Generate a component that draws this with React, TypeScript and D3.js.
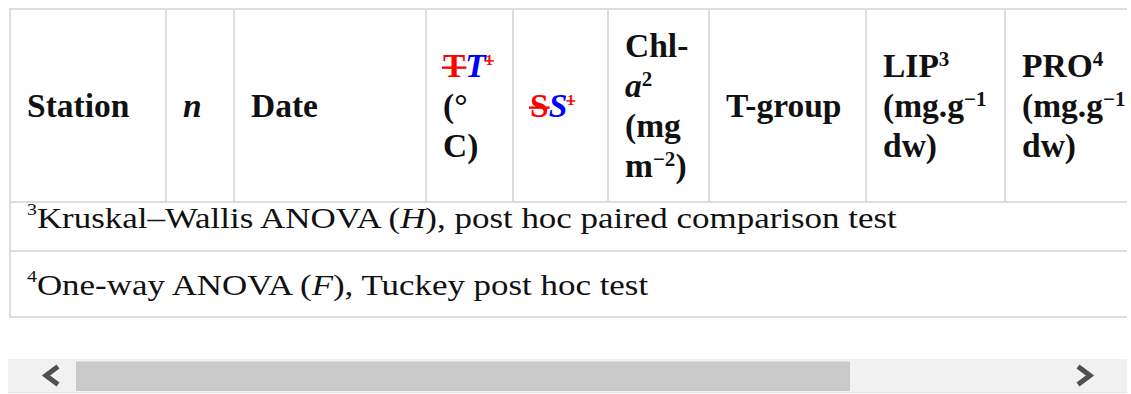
import React, { useRef, useEffect } from 'react';
import * as d3 from 'd3';

type Run = { t: string; i?: boolean; sup?: boolean; tag?: 'del' | 'ins' };

// header labels: one entry per column, each entry is a list of lines
const headerLabels: Run[][][] = [
  [[{ t: 'Station' }]],
  [[{ t: 'n', i: true }]],
  [[{ t: 'Date' }]],
  [
    [{ t: 'T', tag: 'del' }, { t: 'T', i: true, tag: 'ins' }, { t: '1', sup: true, tag: 'del' }],
    [{ t: '(°' }],
    [{ t: 'C)' }],
  ],
  [[{ t: 'S', tag: 'del' }, { t: 'S', i: true, tag: 'ins' }, { t: '1', sup: true, tag: 'del' }]],
  [
    [{ t: 'Chl-' }],
    [{ t: 'a', i: true }, { t: '2', sup: true }],
    [{ t: '(mg' }],
    [{ t: 'm' }, { t: '−2', sup: true }, { t: ')' }],
  ],
  [[{ t: 'T-group' }]],
  [
    [{ t: 'LIP' }, { t: '3', sup: true }],
    [{ t: '(mg.g' }, { t: '−1', sup: true }],
    [{ t: 'dw)' }],
  ],
  [
    [{ t: 'PRO' }, { t: '4', sup: true }],
    [{ t: '(mg.g' }, { t: '−1', sup: true }],
    [{ t: 'dw)' }],
  ],
];

const footnotes: Run[][] = [
  [{ t: '3', sup: true }, { t: 'Kruskal–Wallis ANOVA (' }, { t: 'H', i: true }, { t: '), post hoc paired comparison test' }],
  [{ t: '4', sup: true }, { t: 'One-way ANOVA (' }, { t: 'F', i: true }, { t: '), Tuckey post hoc test' }],
];

// layout
const W = 1131;
const H = 394;
const clipRight = 1127;
const tableLeft = 10;
const colWidths = [156, 68, 192, 87, 95, 101, 157, 139, 240];
const rowLines = [9, 202, 251, 317];
const footBaselines = [228.3, 295];
const footEnds = [898, 649];
const FONT = "'Liberation Serif', 'Times New Roman', serif";
const INK = '#111';
const RED = '#ff0000';
const BLUE = '#0000ff';
const GRID = '#dddddd';

type Style = { size: number; weight: string; supSize: number; raise: number; delSup: number; delRaise: number };

function drawRuns(g: any, runs: Run[], x: number, y: number, st: Style) {
  const text = g.append('text')
    .attr('x', x).attr('y', y)
    .attr('font-family', FONT)
    .attr('font-size', st.size)
    .attr('font-weight', st.weight)
    .attr('fill', INK);
  let shift = 0;
  const spans = runs.map(r => {
    const raise = r.sup ? (r.tag === 'del' ? st.delRaise : st.raise) : 0;
    const fs = r.sup ? (r.tag === 'del' ? st.delSup : st.supSize) : st.size;
    const s = text.append('tspan').attr('dy', shift - raise).text(r.t);
    shift = raise;
    if (r.sup) s.attr('font-size', fs);
    if (r.i) s.attr('font-style', 'italic');
    if (r.tag) s.attr('fill', r.tag === 'del' ? RED : BLUE);
    return { s, r, fs, base: y - raise };
  });
  spans.filter(d => d.r.tag === 'del').forEach(d => {
    const b = (d.s.node() as SVGGraphicsElement).getBBox();
    g.append('line')
      .attr('x1', b.x - 1).attr('x2', b.x + b.width + 1)
      .attr('y1', d.base - 0.27 * d.fs).attr('y2', d.base - 0.27 * d.fs)
      .attr('stroke', RED)
      .attr('stroke-width', d.r.sup ? 1.5 : 2.4);
  });
  return text;
}

const App = () => {
  const ref = useRef<SVGSVGElement>(null);

  useEffect(() => {
    const svg = d3.select(ref.current);
    svg.selectAll('*').remove();

    svg.append('defs').append('clipPath').attr('id', 'tbl')
      .append('rect').attr('x', 0).attr('y', 0).attr('width', clipRight).attr('height', H);

    const g = svg.append('g').attr('clip-path', 'url(#tbl)');
    const edges = [tableLeft, ...Array.from(d3.cumsum(colWidths), v => tableLeft + v)];

    // grid
    g.selectAll('line.row')
      .data(rowLines)
      .join('line')
      .attr('class', 'row')
      .attr('x1', tableLeft - 1).attr('x2', clipRight)
      .attr('y1', d => d).attr('y2', d => d)
      .attr('stroke', GRID).attr('stroke-width', 2);

    g.selectAll('line.col')
      .data(edges.slice(0, headerLabels.length))
      .join('line')
      .attr('class', 'col')
      .attr('x1', d => d).attr('x2', d => d)
      .attr('y1', rowLines[0] - 1)
      .attr('y2', (d, i) => (i === 0 ? rowLines[3] + 1 : rowLines[1]))
      .attr('stroke', GRID).attr('stroke-width', 2);

    // header
    const head: Style = { size: 33.5, weight: 'bold', supSize: 21, raise: 11, delSup: 14, delRaise: 12 };
    const mid = 116.7;
    const lh = 40;
    headerLabels.forEach((lines, c) => {
      lines.forEach((runs, j) => {
        const y = mid + (j - (lines.length - 1) / 2) * lh;
        drawRuns(g, runs, edges[c] + 17, y, head);
      });
    });

    // footnotes, fitted to their measured width
    const foot: Style = { size: 30, weight: 'normal', supSize: 17, raise: 13, delSup: 17, delRaise: 13 };
    const footLeft = 27;
    footnotes.forEach((runs, k) => {
      const fg = g.append('g');
      const t = drawRuns(fg, runs, 0, 0, foot);
      const w = (t.node() as SVGGraphicsElement).getBBox().width;
      const sx = (footEnds[k] - footLeft) / w;
      fg.attr('transform', `translate(${footLeft},${footBaselines[k]}) scale(${sx},1)`);
    });

    // horizontal scrollbar
    const sb = svg.append('g');
    sb.append('rect').attr('x', 8).attr('y', 359).attr('width', clipRight - 8).attr('height', 33).attr('fill', '#f1f1f1');
    sb.append('rect').attr('x', 8).attr('y', 392).attr('width', clipRight - 8).attr('height', 1).attr('fill', '#e3e3e3');
    sb.append('rect').attr('x', 76).attr('y', 361.5).attr('width', 774).attr('height', 29.5).attr('fill', '#c9c9c9');
    const chev = d3.line();
    sb.append('path')
      .attr('d', chev([[58, 366.5], [46, 375.5], [58, 384.5]]))
      .attr('fill', 'none').attr('stroke', '#505050').attr('stroke-width', 5);
    sb.append('path')
      .attr('d', chev([[1078, 366.5], [1090, 375.5], [1078, 384.5]]))
      .attr('fill', 'none').attr('stroke', '#505050').attr('stroke-width', 5);
  }, []);

  return (
    <svg
      ref={ref}
      width={W}
      height={H}
      style={{ position: 'absolute', left: 0, top: 0, background: '#fff' }}
    />
  );
};

export default App;
